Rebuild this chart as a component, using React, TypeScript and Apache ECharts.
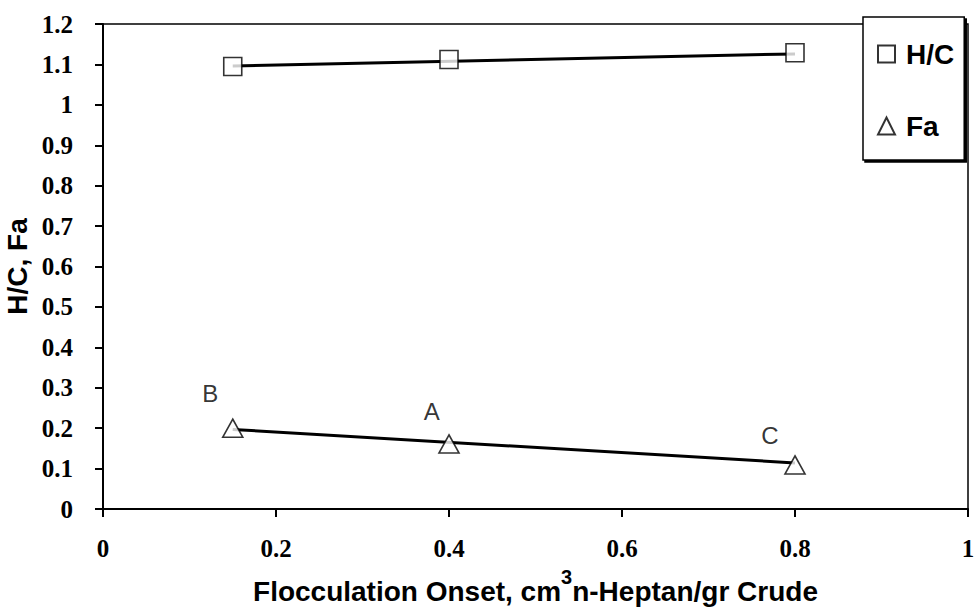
import React, { useEffect, useRef } from "react";
import * as echarts from "echarts";

const xValues = [0.15, 0.4, 0.8];
const hcValues = [1.095, 1.112, 1.129];
const faValues = [0.2, 0.161, 0.109];
const trendX = [0.15, 0.8];
const hcTrend = [1.096, 1.126];
const faTrend = [0.197, 0.114];
const pointLabels = ["B", "A", "C"];
const labelX = [0.124, 0.38, 0.771];
const labelY = [0.285, 0.242, 0.181];

const narrow = "'Liberation Sans Narrow', 'Arial Narrow', 'Liberation Sans', Arial, sans-serif";
const serif = "'Liberation Serif', 'Times New Roman', serif";
const sans = "'Liberation Sans', Arial, sans-serif";

export default function App() {
  const ref = useRef<HTMLDivElement>(null);
  useEffect(() => {
    const chart = echarts.init(ref.current!, null, { renderer: "svg" });
    const marker = { color: "#fff", borderColor: "#000", borderWidth: 1.6 };
    chart.setOption({
      animation: false,
      backgroundColor: "#fff",
      grid: {
        left: 103, top: 24, width: 865, height: 485,
        containLabel: false, outerBoundsMode: "none",
        show: true, borderColor: "#000", borderWidth: 1.5,
      },
      legend: {
        orient: "vertical",
        left: 863, top: 17,
        data: ["H/C", "Fa"],
        itemWidth: 17, itemHeight: 17, itemGap: 44,
        padding: [23, 10, 20, 14],
        backgroundColor: "#fff",
        borderColor: "#000", borderWidth: 1.5, borderRadius: 0,
        shadowColor: "#000", shadowOffsetX: 2, shadowOffsetY: 2, shadowBlur: 0,
        textStyle: { fontFamily: sans, fontWeight: "bold", fontSize: 28, color: "#000", padding: [0, 0, 0, 6] },
      },
      xAxis: {
        type: "value", min: 0, max: 1, interval: 0.2,
        name: "{a|Flocculation Onset, cm}{s|3}{a|n-Heptan/gr Crude}",
        nameLocation: "middle", nameGap: 58, nameMoveOverlap: false,
        nameTextStyle: {
          rich: {
            a: { fontFamily: narrow, fontWeight: "bold", fontSize: 28, color: "#000", verticalAlign: "bottom" },
            s: { fontFamily: narrow, fontWeight: "bold", fontSize: 20, color: "#000", verticalAlign: "top", padding: [0, 0, 18, 0] },
          },
        },
        axisLine: { lineStyle: { color: "#000", width: 2 } },
        axisTick: { inside: false, length: 8, lineStyle: { color: "#000", width: 2 } },
        axisLabel: { margin: 27, fontFamily: serif, fontWeight: "bold", fontSize: 25, color: "#000" },
        splitLine: { show: false },
      },
      yAxis: {
        type: "value", min: 0, max: 1.2, interval: 0.1,
        name: "H/C, Fa",
        nameLocation: "middle", nameGap: 72, nameRotate: 90, nameMoveOverlap: false,
        nameTextStyle: { fontFamily: narrow, fontWeight: "bold", fontSize: 28, color: "#000" },
        axisLine: { lineStyle: { color: "#000", width: 2 } },
        axisTick: { inside: false, length: 8, lineStyle: { color: "#000", width: 2 } },
        axisLabel: { margin: 30, fontFamily: serif, fontWeight: "bold", fontSize: 25, color: "#000" },
        splitLine: { show: false },
      },
      series: [
        {
          type: "line", name: "H/C trend", data: trendX.map((x, i) => [x, hcTrend[i]]),
          showSymbol: false, lineStyle: { color: "#000", width: 3 }, z: 2,
        },
        {
          type: "line", name: "Fa trend", data: trendX.map((x, i) => [x, faTrend[i]]),
          showSymbol: false, lineStyle: { color: "#000", width: 3 }, z: 2,
        },
        {
          type: "scatter", name: "H/C", data: xValues.map((x, i) => [x, hcValues[i]]),
          symbol: "rect", symbolSize: 18, itemStyle: marker, z: 3,
        },
        {
          type: "scatter", name: "Fa", data: xValues.map((x, i) => [x, faValues[i]]),
          symbol: "triangle", symbolSize: [20, 18], itemStyle: marker, z: 3,
        },
        {
          type: "scatter", name: "labels", data: labelX.map((x, i) => [x, labelY[i], pointLabels[i]]),
          symbolSize: 0, silent: true,
          label: {
            show: true, position: "inside", formatter: (p: any) => p.value[2],
            fontFamily: sans, fontSize: 24, color: "#000",
          },
        },
      ],
    });
    return () => chart.dispose();
  }, []);
  return <div ref={ref} style={{ width: 978, height: 608, position: "absolute", left: 0, top: 0 }} />;
}
